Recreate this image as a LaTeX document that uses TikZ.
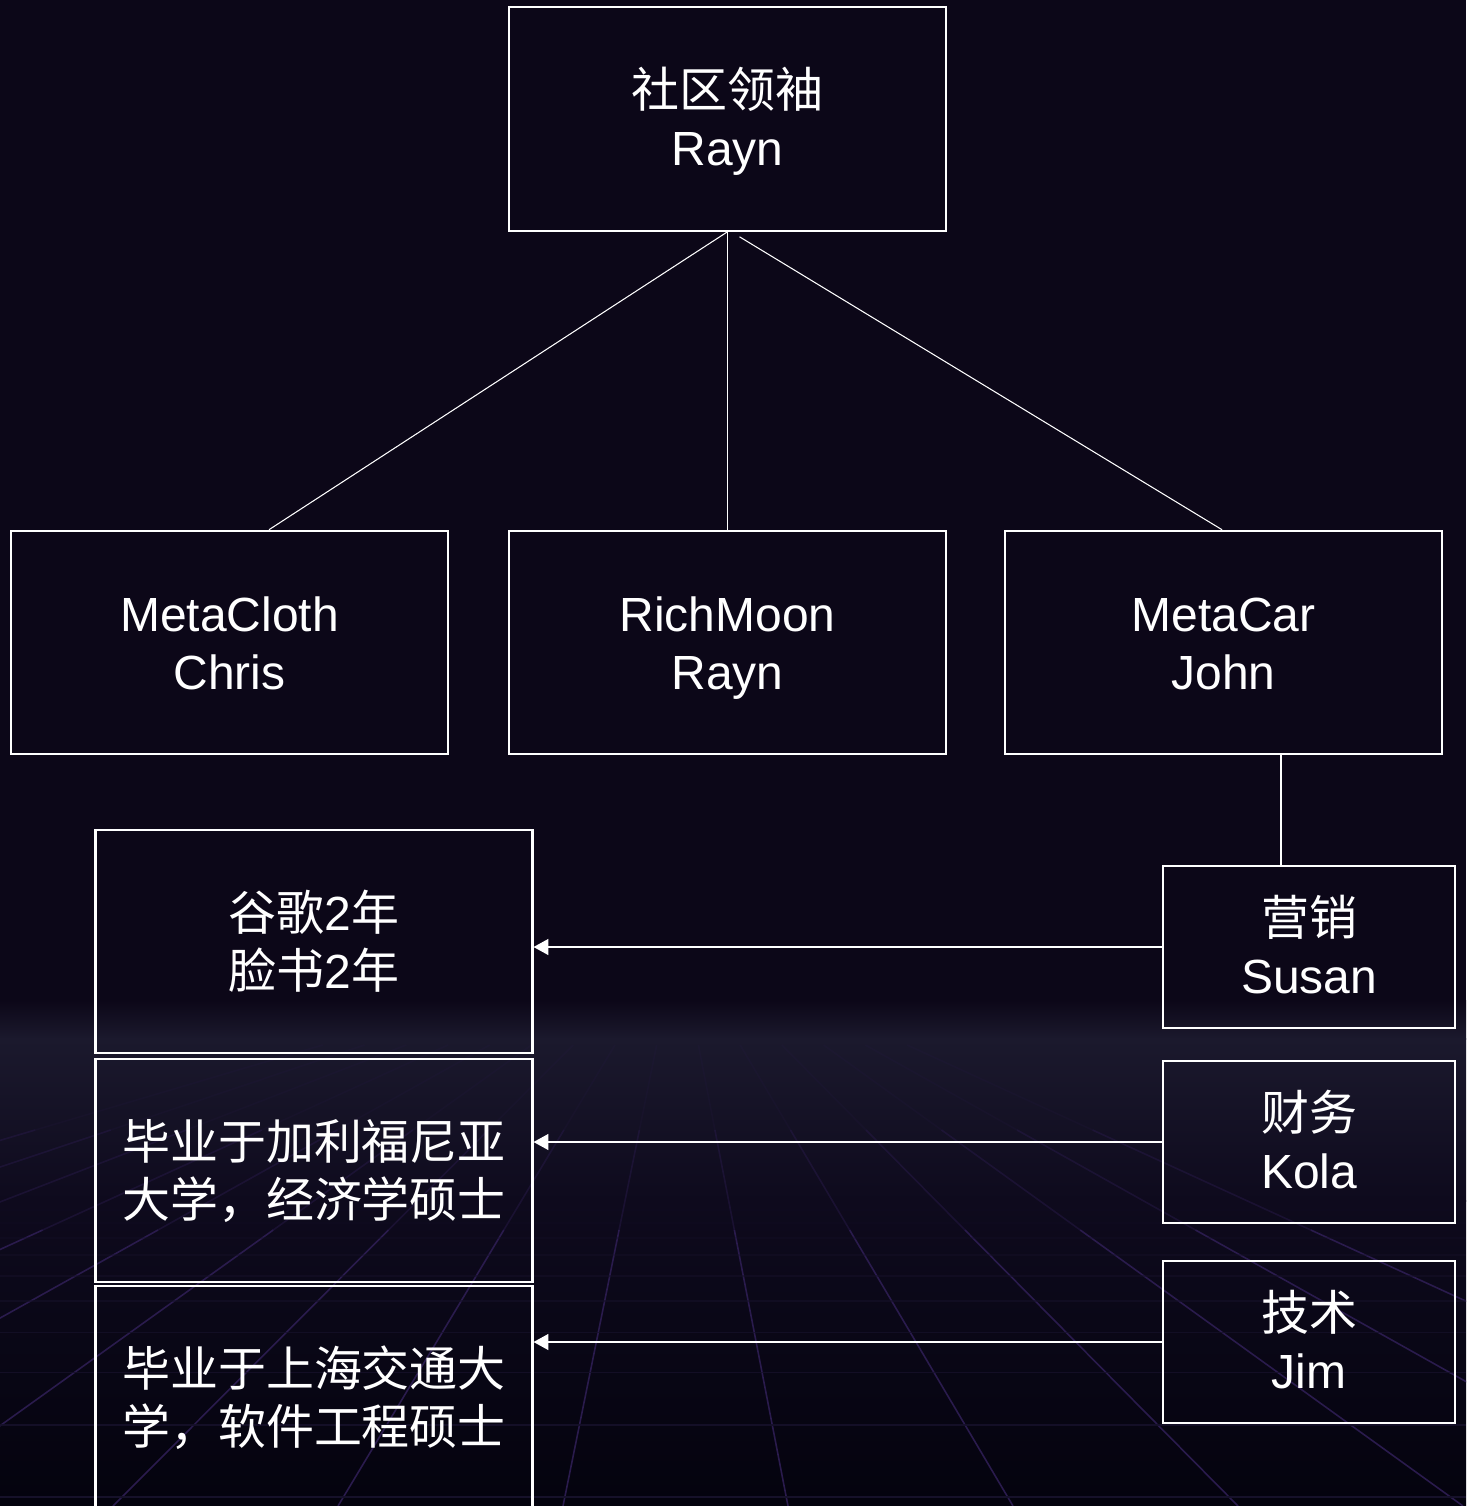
\documentclass[tikz,border=0pt]{standalone}
\usepackage{fontspec}
\setmainfont{Liberation Sans}
\newfontfamily\cjk{Noto Sans CJK SC}
\usepackage{tikz}
\usetikzlibrary{arrows.meta,calc}
\definecolor{bgtop}{HTML}{0C0718}
\definecolor{glow}{HTML}{1B192D}
\definecolor{bgmid}{HTML}{0E0A1D}
\definecolor{bgbot}{HTML}{04030E}
\definecolor{gridray}{HTML}{2A1B4D}
\definecolor{gridrow}{HTML}{16112A}

\begin{document}
\begin{tikzpicture}[x=0.02cm,y=-0.02cm,
    box/.style={draw=white,line width=1.2pt,text=white,align=center,inner sep=0pt,
      text height=53pt,text depth=0pt,font=\fontsize{27.3pt}{33pt}\selectfont},
    bigbox/.style={box,minimum width=8.74cm,minimum height=4.47cm},
    smallbox/.style={box,minimum width=5.84cm,minimum height=3.24cm},
    link/.style={draw=white,line width=0.6pt},
    feed/.style={draw=white,line width=1.2pt,-{Triangle[length=8.5pt,width=9pt]}}]
    \useasboundingbox (0,0) rectangle (1466,1506);

    % background and floor grid
    \fill[bgtop] (0,0) rectangle (1466,1001);
    \shade[top color=bgtop,bottom color=glow] (0,1000) rectangle (1466,1039);
    \shade[top color=glow,bottom color=bgmid] (0,1038) rectangle (1466,1201);
    \shade[top color=bgmid,bottom color=bgbot] (0,1200) rectangle (1466,1506);
    \begin{scope}
    \clip (0,1040) rectangle (1466,1506);
    \coordinate (vp) at (678,940);
    \foreach \k in {-8,...,6}{
      \coordinate (gb) at (563+225*\k,1506);
      \draw[gridray,line width=0.9pt,opacity=0.15] ($(vp)!0.1855!(gb)$) -- ($(vp)!0.3357!(gb)$);
      \draw[gridray,line width=0.9pt,opacity=0.45] ($(vp)!0.3357!(gb)$) -- ($(vp)!0.5124!(gb)$);
      \draw[gridray,line width=0.9pt] ($(vp)!0.5124!(gb)$) -- (gb);
    }
    \foreach \k in {0,...,9}{
      \pgfmathsetmacro\op{1-\k/10}
      \pgfmathsetmacro\yy{1040+1000/(2.188+0.41*\k)}
      \draw[gridrow,line width=1pt,opacity=\op] (0,\yy) -- (1466,\yy);
    }
    \end{scope}

    % nodes
    \node[bigbox] (leader) at (727.5,119) {{\cjk 社区领袖}\\Rayn};
    \node[bigbox] (cloth) at (229.5,642.5) {MetaCloth\\Chris};
    \node[bigbox] (moon) at (727.5,642.5) {RichMoon\\Rayn};
    \node[bigbox] (car) at (1223.5,642.5) {MetaCar\\John};

    \node[bigbox] (career) at (314,941.5) {{\cjk 谷歌}2{\cjk 年}\\{\cjk 脸书}2{\cjk 年}};
    \node[bigbox] (kolaedu) at (314,1170.5) {{\cjk 毕业于加利福尼亚}\\{\cjk 大学，经济学硕士}};
    \node[bigbox] (jimedu) at (314,1397.5) {{\cjk 毕业于上海交通大}\\{\cjk 学，软件工程硕士}};

    \node[smallbox] (susan) at (1309,947) {{\cjk 营销}\\Susan};
    \node[smallbox] (kola) at (1309,1142) {{\cjk 财务}\\Kola};
    \node[smallbox] (jim) at (1309,1342) {{\cjk 技术}\\Jim};

    % connectors
    \draw[link] (leader.south) -- ($(cloth.north)+(39.5,0)$);
    \draw[link,draw=white!75,line width=0.8pt] (leader.south) -- (moon.north);
    \draw[link] ($(leader.south)+(12,5)$) -- ($(car.north)+(-1.5,0)$);
    \coordinate (tap) at ($(car.south)+(57.5,0)$);
    \draw[link,line width=0.9pt] (tap) -- (tap |- susan.north);

    \draw[feed] (susan.west) -- (susan.west -| career.east);
    \draw[feed] (kola.west) -- (kola.west -| kolaedu.east);
    \draw[feed] (jim.west) -- (jim.west -| jimedu.east);
\end{tikzpicture}
\end{document}
